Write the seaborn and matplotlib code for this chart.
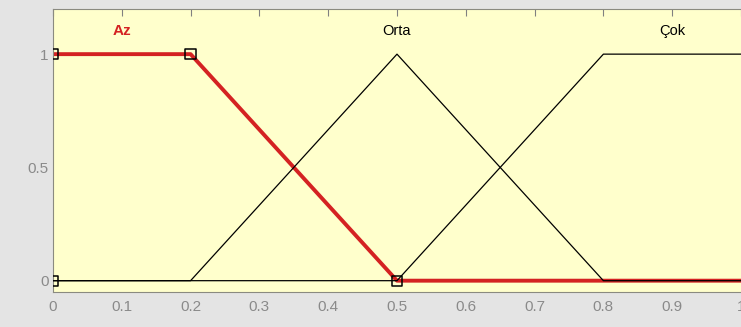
import numpy as np
import pandas as pd
import seaborn as sns
import matplotlib.pyplot as plt

# membership function breakpoints
az_x = [0.0, 0.2, 0.5, 1.0]
az_y = [1.0, 1.0, 0.0, 0.0]
orta_x = [0.0, 0.2, 0.5, 0.8, 1.0]
orta_y = [0.0, 0.0, 1.0, 0.0, 0.0]
cok_x = [0.0, 0.5, 0.8, 1.0]
cok_y = [0.0, 0.0, 1.0, 1.0]

# editing handles of the selected function
handle_x = [0.0, 0.0, 0.2, 0.5]
handle_y = [0.0, 1.0, 1.0, 0.0]

labels = ["Az", "Orta", "Çok"]
label_x = [0.1, 0.5, 0.9]
label_y = [1.1, 1.1, 1.1]

x_ticks = [0.0, 0.1, 0.2, 0.3, 0.4, 0.5, 0.6, 0.7, 0.8, 0.9, 1.0]
x_tick_labels = ["0", "0.1", "0.2", "0.3", "0.4", "0.5", "0.6", "0.7", "0.8", "0.9", "1"]
y_ticks = [0.0, 0.5, 1.0]
y_tick_labels = ["0", "0.5", "1"]

az_df = pd.DataFrame({"x": az_x, "y": az_y})
orta_df = pd.DataFrame({"x": orta_x, "y": orta_y})
cok_df = pd.DataFrame({"x": cok_x, "y": cok_y})
handle_df = pd.DataFrame({"x": handle_x, "y": handle_y})

sns.set_style("white")
plt.rcParams["font.family"] = ["Liberation Sans", "DejaVu Sans"]

red = "#d42222"
fig = plt.figure(figsize=(7.41, 3.27), dpi=100, facecolor="#e4e4e4")
ax = fig.add_axes([0.0715, 0.107, 0.9285, 0.866])
ax.set_facecolor("#ffffcc")

sns.lineplot(data=az_df, x="x", y="y", sort=False, estimator=None,
             color=red, linewidth=2.8, ax=ax, zorder=2)
sns.lineplot(data=orta_df, x="x", y="y", sort=False, estimator=None,
             color="black", linewidth=0.9, ax=ax, zorder=3)
sns.lineplot(data=cok_df, x="x", y="y", sort=False, estimator=None,
             color="black", linewidth=0.9, ax=ax, zorder=3)
sns.scatterplot(data=handle_df, x="x", y="y", marker="s", s=55,
                facecolor="none", edgecolor="black", linewidth=1.1,
                ax=ax, zorder=4)

for name, lx, ly in zip(labels, label_x, label_y):
    if name == "Az":
        ax.text(lx, ly, name, color=red, fontweight="bold", fontsize=11,
                ha="center", va="center")
    else:
        ax.text(lx, ly, name, color="black", fontsize=10.5,
                ha="center", va="center")

ax.set_xlim(0, 1)
ax.set_ylim(-0.05, 1.2)
ax.set_xticks(x_ticks)
ax.set_xticklabels(x_tick_labels)
ax.set_yticks(y_ticks)
ax.set_yticklabels(y_tick_labels)
ax.set_xlabel("")
ax.set_ylabel("")
ax.tick_params(axis="both", direction="in", length=5, width=0.8,
               color="#808080", labelcolor="#8a8a8a", labelsize=11)
ax.tick_params(axis="x", top=True, pad=6)
ax.tick_params(axis="y", right=False, pad=3)
for side in ["left", "top", "bottom"]:
    ax.spines[side].set_color("#8a8a80")
    ax.spines[side].set_linewidth(0.8)
ax.spines["right"].set_visible(False)

fig.savefig("out.png", dpi=100, facecolor=fig.get_facecolor())
